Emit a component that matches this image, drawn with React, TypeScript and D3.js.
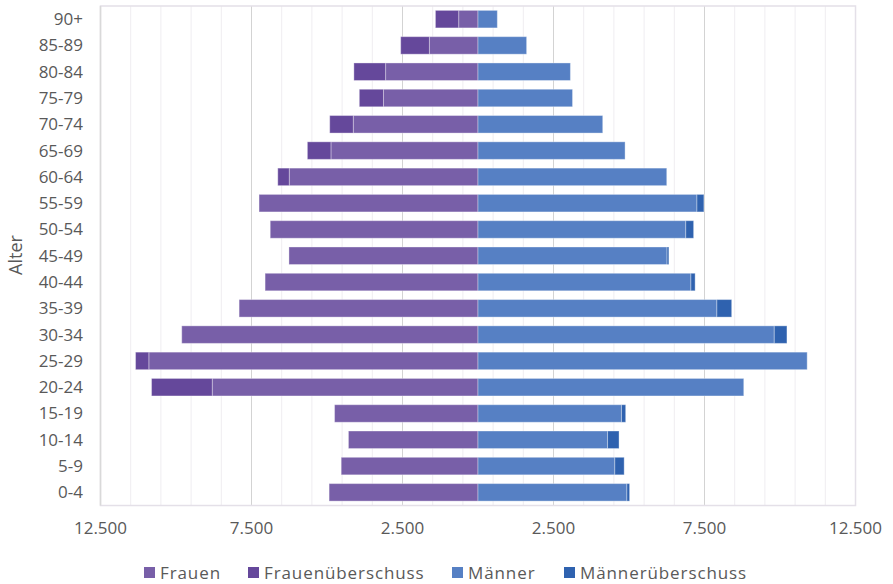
import React, { useEffect, useRef } from 'react';
import * as d3 from 'd3';

// Altersgruppen von unten nach oben
const categories = ["0-4", "5-9", "10-14", "15-19", "20-24", "25-29", "30-34", "35-39", "40-44", "45-49", "50-54", "55-59", "60-64", "65-69", "70-74", "75-79", "80-84", "85-89", "90+"];
const frauen = [4930, 4530, 4290, 4750, 8800, 10900, 9810, 7910, 7050, 6260, 6880, 7250, 6250, 4870, 4130, 3130, 3060, 1610, 640];
const frauenUeberschuss = [0, 0, 0, 0, 2010, 440, 0, 0, 0, 0, 0, 0, 380, 780, 780, 800, 1050, 950, 770];
const maenner = [4930, 4530, 4290, 4750, 8800, 10900, 9810, 7910, 7050, 6260, 6880, 7250, 6250, 4870, 4130, 3130, 3060, 1610, 640];
const maennerUeberschuss = [90, 310, 380, 140, 0, 0, 420, 490, 140, 60, 260, 230, 0, 0, 0, 0, 0, 0, 0];
const xTicks = [-12500, -7500, -2500, 2500, 7500, 12500];

const seriesNames = ["Frauen", "Frauenüberschuss", "Männer", "Männerüberschuss"];
const seriesColors = ["#785fa8", "#65489b", "#5680c4", "#2f62af"];

const FONT = "'Open Sans', sans-serif";
const TEXT = "#595959";

const PopulationPyramid: React.FC = () => {
  const svgRef = useRef<SVGSVGElement>(null);

  useEffect(() => {
    if (!svgRef.current) return;
    const svg = d3.select(svgRef.current);
    svg.selectAll("*").remove();

    const left = 100.5, right = 855.5, top = 6, bottom = 505.5;

    const x = d3.scaleLinear().domain([-12500, 12500]).range([left, right]);
    const y = d3.scaleBand<string>()
      .domain([...categories].reverse())
      .range([top, bottom])
      .paddingInner(1 / 3)
      .paddingOuter(1 / 6);

    // Grid lines (minor every 1000, major every 5000)
    const minor = d3.range(-11500, 12500, 1000);
    svg.append("g").selectAll("line").data(minor).enter().append("line")
      .attr("x1", d => x(d)).attr("x2", d => x(d))
      .attr("y1", top).attr("y2", bottom)
      .attr("stroke", "#efedf1").attr("stroke-width", 1);

    svg.append("g").selectAll("line").data(xTicks.slice(1, -1)).enter().append("line")
      .attr("x1", d => x(d)).attr("x2", d => x(d))
      .attr("y1", top).attr("y2", bottom)
      .attr("stroke", "#d3d3d3").attr("stroke-width", 1);

    // Plot frame
    svg.append("rect")
      .attr("x", left).attr("y", top)
      .attr("width", right - left).attr("height", bottom - top)
      .attr("fill", "none").attr("stroke", "#e4e0e8").attr("stroke-width", 1.5);
    svg.append("line")
      .attr("x1", left).attr("x2", left).attr("y1", top).attr("y2", bottom)
      .attr("stroke", "#d9d9d9").attr("stroke-width", 1.5);

    // Bars
    const bars = svg.append("g");
    const bh = y.bandwidth();
    const drawSeg = (x0: number[], x1: number[], color: string) => {
      bars.append("g").selectAll("rect").data(categories).enter().append("rect")
        .attr("x", (_, i) => Math.min(x(x0[i]), x(x1[i])))
        .attr("y", d => y(d)!)
        .attr("width", (_, i) => Math.abs(x(x1[i]) - x(x0[i])))
        .attr("height", bh)
        .attr("fill", color)
        .attr("stroke", "#ffffff")
        .attr("stroke-opacity", 0.35)
        .attr("stroke-width", 1);
    };
    drawSeg(frauen.map(() => 0), frauen.map(v => -v), seriesColors[0]);
    drawSeg(frauen.map(v => -v), frauen.map((v, i) => -(v + frauenUeberschuss[i])), seriesColors[1]);
    drawSeg(maenner.map(() => 0), maenner, seriesColors[2]);
    drawSeg(maenner, maenner.map((v, i) => v + maennerUeberschuss[i]), seriesColors[3]);

    // Y labels
    svg.append("g").selectAll("text").data(categories).enter().append("text")
      .attr("x", 83)
      .attr("y", d => y(d)! + bh / 2)
      .attr("dy", "0.35em")
      .attr("text-anchor", "end")
      .style("font-family", FONT).style("font-size", "17px").style("fill", TEXT)
      .text(d => d);

    // X labels (absolute values, German format)
    const fmt = d3.formatLocale({ decimal: ",", thousands: ".", grouping: [3], currency: ["", "€"] }).format(",d");
    svg.append("g").selectAll("text").data(xTicks).enter().append("text")
      .attr("x", d => x(d))
      .attr("y", 534)
      .attr("text-anchor", "middle")
      .style("font-family", FONT).style("font-size", "17px").style("fill", TEXT)
      .text(d => fmt(Math.abs(d)));

    // Axis title
    svg.append("text")
      .attr("transform", "translate(22,255) rotate(-90)")
      .attr("text-anchor", "middle")
      .style("font-family", FONT).style("font-size", "18px").style("fill", TEXT)
      .text("Alter");

    // Legend
    const legendX = [144, 248, 452, 564];
    const lg = svg.append("g");
    seriesNames.forEach((name, i) => {
      lg.append("rect")
        .attr("x", legendX[i]).attr("y", 567)
        .attr("width", 11).attr("height", 11)
        .attr("fill", seriesColors[i]);
      lg.append("text")
        .attr("x", legendX[i] + 16).attr("y", 579)
        .style("font-family", FONT).style("font-size", "17px").style("fill", TEXT)
        .style("letter-spacing", "0.9px")
        .text(name);
    });
  }, []);

  return (
    <svg ref={svgRef} width={893} height={584}
      style={{ position: "absolute", left: 0, top: 0, background: "#fff" }} />
  );
};

export default function App() {
  return <PopulationPyramid />;
}
